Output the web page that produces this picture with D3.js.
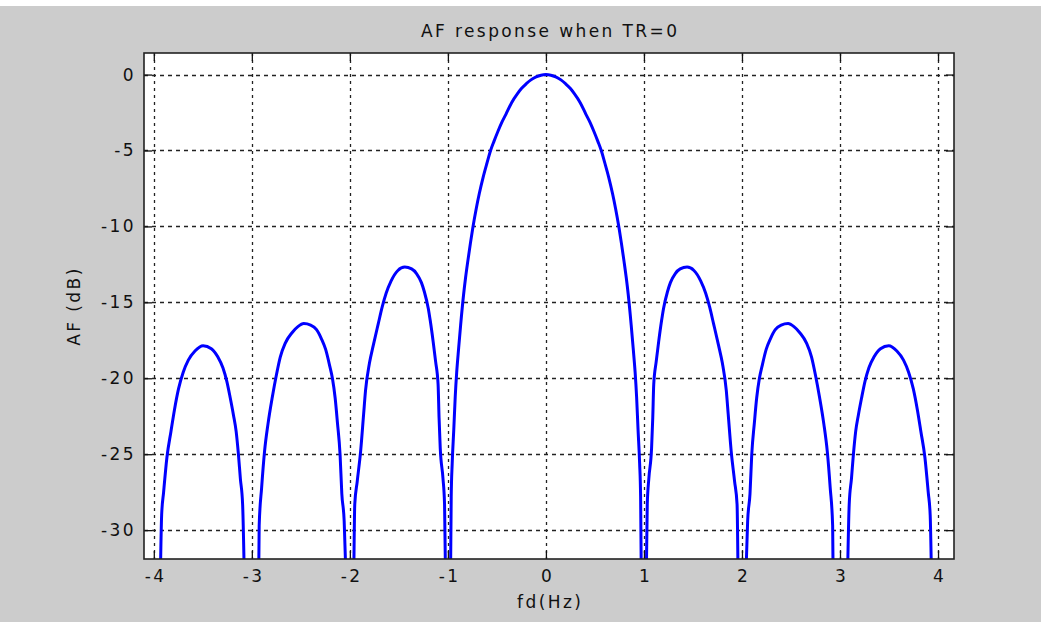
<!DOCTYPE html>
<html>
<head>
<meta charset="utf-8">
<script src="https://cdn.jsdelivr.net/npm/d3@7"></script>
<style>
  html, body { margin: 0; padding: 0; background: #cccccc; }
  svg { display: block; }
  text { font-family: "DejaVu Sans", sans-serif; font-size: 17px; fill: #111; letter-spacing: 2.4px; }
</style>
</head>
<body>
<svg id="chart" width="1041" height="622"></svg>
<script>
// Axis ticks
const xTicks = [-4, -3, -2, -1, 0, 1, 2, 3, 4];
const yTicks = [0, -5, -10, -15, -20, -25, -30];

// Array factor (dB) over positive Doppler frequency, one array per lobe;
// the response is symmetric about fd = 0.
const mainFd = [0, 0.05, 0.1, 0.153, 0.2, 0.25, 0.288, 0.35, 0.407, 0.45, 0.49, 0.53, 0.567, 0.6, 0.64, 0.68, 0.71, 0.746, 0.77, 0.797, 0.82, 0.84, 0.87, 0.89, 0.91, 0.925, 0.94, 0.956, 0.966, 0.973];
const mainDb = [0, -0.04, -0.15, -0.35, -0.6, -0.92, -1.24, -1.85, -2.6, -3.15, -3.75, -4.4, -5.05, -5.8, -6.75, -7.85, -8.8, -10.1, -11.1, -12.3, -13.4, -14.5, -16.5, -18.0, -19.6, -21.2, -23.4, -25.6, -27.8, -33];

const lobe1Fd = [1.024, 1.034, 1.05, 1.078, 1.09, 1.10, 1.125, 1.15, 1.18, 1.20, 1.24, 1.27, 1.32, 1.37, 1.44, 1.51, 1.58, 1.63, 1.67, 1.71, 1.76, 1.80, 1.84, 1.86, 1.89, 1.925, 1.95, 1.96];
const lobe1Db = [-33, -28.3, -26.6, -24.6, -22.6, -20.4, -18.9, -17.6, -16.2, -15.4, -14.3, -13.7, -13.1, -12.8, -12.68, -12.9, -13.6, -14.4, -15.3, -16.4, -17.8, -19.0, -20.8, -22.4, -24.8, -26.8, -28.3, -33];

const lobe2Fd = [2.04, 2.058, 2.082, 2.10, 2.127, 2.15, 2.178, 2.205, 2.247, 2.29, 2.34, 2.40, 2.47, 2.53, 2.59, 2.66, 2.71, 2.75, 2.79, 2.835, 2.87, 2.90, 2.925, 2.93];
const lobe2Db = [-33, -29.4, -27.6, -25.0, -22.9, -21.3, -20.0, -19.2, -18.1, -17.4, -16.8, -16.5, -16.4, -16.6, -17.0, -17.7, -18.6, -19.8, -21.2, -23.0, -24.8, -27.2, -29.7, -33];

const lobe3Fd = [3.077, 3.094, 3.117, 3.137, 3.16, 3.188, 3.22, 3.255, 3.295, 3.346, 3.413, 3.497, 3.58, 3.648, 3.70, 3.748, 3.79, 3.825, 3.866, 3.90, 3.92, 3.933];
const lobe3Db = [-33, -28.3, -26.6, -25.0, -23.5, -22.4, -21.3, -20.2, -19.3, -18.6, -18.05, -17.85, -18.2, -18.8, -19.6, -20.7, -22.1, -23.5, -25.2, -27.5, -29.0, -33];

const W = 1041, H = 622;
const plot = { left: 144, top: 53, right: 954, bottom: 559 };

const svg = d3.select("#chart");

// Thin white strip along the top edge of the figure window
svg.append("rect").attr("x", 0).attr("y", 0).attr("width", W).attr("height", 6).attr("fill", "#ffffff");

const x = d3.scaleLinear().domain([-4.1, 4.163]).range([plot.left, plot.right]);
const y = d3.scaleLinear().domain([-31.9, 1.42]).range([plot.bottom, plot.top]);

// Plot background
svg.append("rect")
  .attr("x", plot.left).attr("y", plot.top)
  .attr("width", plot.right - plot.left).attr("height", plot.bottom - plot.top)
  .attr("fill", "#ffffff");

// Dotted grid
const grid = svg.append("g").attr("stroke", "#222").attr("stroke-width", 1.3);
grid.selectAll("line.v").data(xTicks).join("line")
  .attr("x1", d => Math.round(x(d)) + 0.5).attr("x2", d => Math.round(x(d)) + 0.5)
  .attr("y1", plot.top).attr("y2", plot.bottom)
  .attr("stroke-dasharray", "3,4");
grid.selectAll("line.h").data(yTicks).join("line")
  .attr("y1", d => Math.round(y(d)) + 0.5).attr("y2", d => Math.round(y(d)) + 0.5)
  .attr("x1", plot.left).attr("x2", plot.right)
  .attr("stroke-dasharray", "4,4");

// Response curve, clipped to the axes box
svg.append("clipPath").attr("id", "plotClip")
  .append("rect")
  .attr("x", plot.left).attr("y", plot.top)
  .attr("width", plot.right - plot.left).attr("height", plot.bottom - plot.top);

const rightSide = [
  [mainFd, mainDb], [lobe1Fd, lobe1Db], [lobe2Fd, lobe2Db], [lobe3Fd, lobe3Db]
].map(([f, a]) => f.map((v, i) => [v, a[i]]));

// Main lobe spans both sides; sidelobes are mirrored to negative fd
const mainFull = rightSide[0].slice(1).map(([f, a]) => [-f, a]).reverse().concat(rightSide[0]);
const series = [mainFull];
rightSide.slice(1).forEach(lobe => {
  series.push(lobe);
  series.push(lobe.map(([f, a]) => [-f, a]).reverse());
});

const line = d3.line().curve(d3.curveMonotoneX).x(d => x(d[0])).y(d => y(d[1]));
svg.append("g").attr("clip-path", "url(#plotClip)")
  .selectAll("path").data(series).join("path")
  .attr("d", line)
  .attr("fill", "none")
  .attr("stroke", "#0000ff")
  .attr("stroke-width", 3)
  .attr("stroke-linejoin", "round");

// Axes: ticks pointing inward on all four sides
const fmt = d => String(d);
const gB = svg.append("g").attr("transform", `translate(0,${plot.bottom})`)
  .call(d3.axisBottom(x).tickValues(xTicks).tickSize(-8).tickPadding(11).tickFormat(fmt));
const gT = svg.append("g").attr("transform", `translate(0,${plot.top})`)
  .call(d3.axisTop(x).tickValues(xTicks).tickSize(-8).tickFormat(""));
const gL = svg.append("g").attr("transform", `translate(${plot.left},0)`)
  .call(d3.axisLeft(y).tickValues(yTicks).tickSize(-8).tickPadding(8).tickFormat(fmt));
const gR = svg.append("g").attr("transform", `translate(${plot.right},0)`)
  .call(d3.axisRight(y).tickValues(yTicks).tickSize(-8).tickFormat(""));

[gB, gT, gL, gR].forEach(g => {
  g.select(".domain").remove();
  g.selectAll(".tick line").attr("stroke", "#111").attr("stroke-width", 1.3);
  g.selectAll(".tick text").attr("font-family", null).attr("font-size", null).attr("fill", "#111");
});
gB.selectAll(".tick text").attr("dx", "1.2px");

// Axes box
svg.append("rect")
  .attr("x", plot.left).attr("y", plot.top)
  .attr("width", plot.right - plot.left).attr("height", plot.bottom - plot.top)
  .attr("fill", "none").attr("stroke", "#222").attr("stroke-width", 1.6);

// Title and axis labels
svg.append("text").attr("x", (plot.left + plot.right) / 2 + 1.2).attr("y", 37)
  .attr("text-anchor", "middle").text("AF response when TR=0");
svg.append("text").attr("x", (plot.left + plot.right) / 2 + 1.2).attr("y", 608)
  .attr("text-anchor", "middle").text("fd(Hz)");
svg.append("text")
  .attr("transform", `translate(80,${(plot.top + plot.bottom) / 2}) rotate(-90)`)
  .attr("text-anchor", "middle").text("AF (dB)");
</script>
</body>
</html>
